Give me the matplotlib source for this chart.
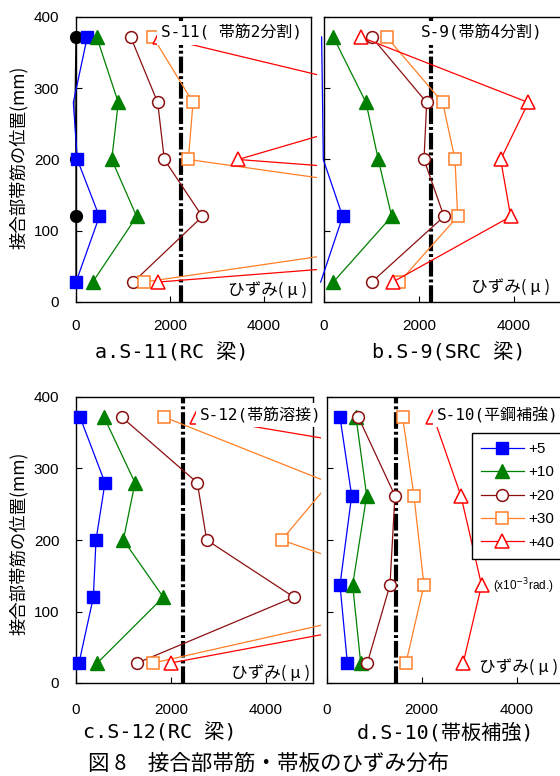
import numpy as np
import matplotlib
matplotlib.use("Agg")
import matplotlib.pyplot as plt
from matplotlib.patches import Rectangle

W, H = 560, 776
fig = plt.figure(figsize=(W / 100, H / 100), dpi=100)

CJK = ['Noto Sans CJK JP', 'DejaVu Sans']
MONO = ['DejaVu Sans Mono', 'Noto Sans CJK JP']
NUM = ['Liberation Sans', 'DejaVu Sans']

# gauge positions along the joint hoop (mm)
heights_abc = [372, 280, 200, 120, 28]
heights_d = [372, 262, 137, 28]

drifts = ['+5', '+10', '+20', '+30', '+40']
xticks = [0, 2000, 4000]
yticks = [0, 100, 200, 300, 400]

# strain (micro) per drift level, listed top gauge first
s11_p0 = [0, -20, 0, 0, 0]
s11_p5 = [240, -57, 28, 496, 0]
s11_p10 = [440, 900, 760, 1290, 355]
s11_p20 = [1163, 1738, 1879, 2688, 1220]
s11_p30 = [1638, 2490, 2390, 11000, 1447]
s11_p40 = [1780, 7600, 3450, 19500, 1745]

s9_p5 = [-50, -30, -15, 393, -70]
s9_p10 = [196, 884, 1143, 1425, 196]
s9_p20 = [1004, 2162, 2105, 2526, 1004]
s9_p30 = [1319, 2499, 2758, 2814, 1586]
s9_p40 = [772, 4302, 3719, 3930, 1446]

s12_p5 = [84, 612, 422, 366, 63]
s12_p10 = [591, 1245, 999, 1842, 450]
s12_p20 = [963, 2560, 2757, 4599, 1294]
s12_p30 = [1857, 5350, 4340, 7800, 1631]
s12_p40 = [2550, 10800, 11600, 9400, 1997]

s10_p5 = [280, 526, 280, 435]
s10_p10 = [617, 842, 547, 716]
s10_p20 = [666, 1438, 1333, 856]
s10_p30 = [1600, 1838, 2049, 1670]
s10_p40 = [2250, 2827, 3263, 2876]

# yield strain lines
yield_rebar_a = 2230
yield_rebar_b = 2260
yield_rebar_c = 2260
yield_plate_d = 1470

styles = {
    '+5': dict(color='#0000ff', marker='s', mfc='#0000ff', mec='#0000ff', ms=9),
    '+10': dict(color='#008000', marker='^', mfc='#008000', mec='#008000', ms=10),
    '+20': dict(color='#8b1010', marker='o', mfc='white', mec='#8b1010', ms=8.5, mew=1.1),
    '+30': dict(color='#ff7f27', marker='s', mfc='white', mec='#ff7f27', ms=9, mew=1.1),
    '+40': dict(color='#ff0000', marker='^', mfc='white', mec='#ff0000', ms=10, mew=1.1),
}


def add_axes_px(left, top, right, bottom):
    return fig.add_axes([left / W, 1 - bottom / H, (right - left) / W, (bottom - top) / H])


def clip_rect(left, top, right, bottom):
    return Rectangle((left / W, 1 - bottom / H), (right - left) / W, (bottom - top) / H,
                     transform=fig.transFigure)


def draw_series(ax, xs, ys, clip, zorder=3, **kw):
    xs = np.asarray(xs, dtype=float)
    shown = [int(i) for i in np.flatnonzero(xs >= 0)]
    line, = ax.plot(xs, ys, lw=0.9, markevery=shown, zorder=zorder, **kw)
    line.set_clip_path(clip)
    return line


def style_axes(ax, show_ylabels, xpad):
    ax.set_xlim(0, 5000)
    ax.set_ylim(0, 400)
    ax.set_xticks(xticks)
    ax.set_yticks(yticks)
    ax.tick_params(direction='in', length=4, width=0.8, labelsize=11)
    ax.tick_params(axis='x', pad=xpad)
    ax.tick_params(axis='y', pad=12)
    for lab in ax.get_xticklabels() + ax.get_yticklabels():
        lab.set_family(NUM)
    if not show_ylabels:
        ax.set_yticklabels([])
    for sp in ax.spines.values():
        sp.set_linewidth(1.0)


def yield_line(ax, x):
    ax.axvline(x, color='black', lw=3, ls=(0, (4, 0.7, 0.7, 0.7)), zorder=1)


def hizumi(ax, x, y):
    ax.text(x, y, 'ひずみ( μ )', transform=ax.transAxes, ha='right', va='center',
            fontsize=12, family=CJK, zorder=4)


def spec_label(ax, x, y, text, ha):
    ax.text(x, y, text, transform=ax.transAxes, ha=ha, va='center', fontsize=11.5,
            family=MONO, zorder=6, clip_on=False,
            bbox=dict(boxstyle='square,pad=0.25', fc='white', ec='none'))


# ---- a. S-11 (RC beam) ----
ax_a = add_axes_px(76, 17, 311, 302)
style_axes(ax_a, True, 12.5)
yield_line(ax_a, yield_rebar_a)
clip_a = clip_rect(55, 10, 317, 310)
draw_series(ax_a, s11_p0, heights_abc, clip_a, color='black', marker='o',
            mfc='black', mec='black', ms=8.5, zorder=2.6)
for lab, xs in zip(drifts, [s11_p5, s11_p10, s11_p20, s11_p30, s11_p40]):
    draw_series(ax_a, xs, heights_abc, clip_a, **styles[lab])
spec_label(ax_a, 0.962, 0.944, 'S-11( 帯筋2分割)', 'right')
hizumi(ax_a, 0.983, 0.04)

# ---- b. S-9 (SRC beam) ----
ax_b = add_axes_px(324, 17, 561.5, 302)
style_axes(ax_b, False, 12.5)
yield_line(ax_b, yield_rebar_b)
clip_b = clip_rect(318, 10, 600, 310)
for lab, xs in zip(drifts, [s9_p5, s9_p10, s9_p20, s9_p30, s9_p40]):
    draw_series(ax_b, xs, heights_abc, clip_b, **styles[lab])
spec_label(ax_b, 0.41, 0.944, 'S-9(帯筋4分割)', 'left')
hizumi(ax_b, 0.952, 0.053)

# ---- c. S-12 (RC beam) ----
ax_c = add_axes_px(76, 397, 313, 683)
style_axes(ax_c, True, 14.5)
yield_line(ax_c, yield_rebar_c)
clip_c = clip_rect(55, 390, 321, 690)
for lab, xs in zip(drifts, [s12_p5, s12_p10, s12_p20, s12_p30, s12_p40]):
    draw_series(ax_c, xs, heights_abc, clip_c, **styles[lab])
spec_label(ax_c, 0.523, 0.937, 'S-12(帯筋溶接)', 'left')
hizumi(ax_c, 0.987, 0.035)

# ---- d. S-10 (steel plate reinforced) ----
ax_d = add_axes_px(326.7, 397, 564, 683)
style_axes(ax_d, False, 14.5)
yield_line(ax_d, yield_plate_d)
clip_d = clip_rect(322, 390, 600, 690)
handles = []
for lab, xs in zip(drifts, [s10_p5, s10_p10, s10_p20, s10_p30, s10_p40]):
    handles.append(draw_series(ax_d, xs, heights_d, clip_d, **styles[lab]))
spec_label(ax_d, 0.463, 0.937, 'S-10(平鋼補強)', 'left')
hizumi(ax_d, 0.974, 0.056)
leg = ax_d.legend(handles, drifts, loc='upper left', bbox_to_anchor=(0.611, 0.875),
                  borderaxespad=0, frameon=True, fancybox=False, framealpha=1,
                  edgecolor='black', prop={'family': NUM, 'size': 11},
                  handlelength=2.8, handletextpad=0.3, labelspacing=0.62,
                  borderpad=0.6)
leg.get_frame().set_linewidth(1.0)
leg.set_zorder(7)
ax_d.text(0.70, 0.34, r'(x10$^{-3}$rad.)', transform=ax_d.transAxes, ha='left',
          va='center', fontsize=8.5, family=NUM)

# axis titles and panel captions
for y in (157, 543):
    fig.text(19 / W, 1 - y / H, '接合部帯筋の位置(mm)', rotation=90, ha='center',
             va='center', fontsize=12.5, family=CJK)

panel_titles = [
    (172, 353, 'a.S-11(RC 梁)'),
    (449, 353, 'b.S-9(SRC 梁)'),
    (160, 733, 'c.S-12(RC 梁)'),
    (446, 733, 'd.S-10(帯板補強)'),
]
for x, y, t in panel_titles:
    fig.text(x / W, 1 - y / H, t, ha='center', va='center', fontsize=14.5, family=MONO)

fig.text(269 / W, 1 - 764 / H, '図 8　接合部帯筋・帯板のひずみ分布', ha='center',
         va='center', fontsize=15.5, family=CJK)

fig.savefig('out.png', dpi=100)
